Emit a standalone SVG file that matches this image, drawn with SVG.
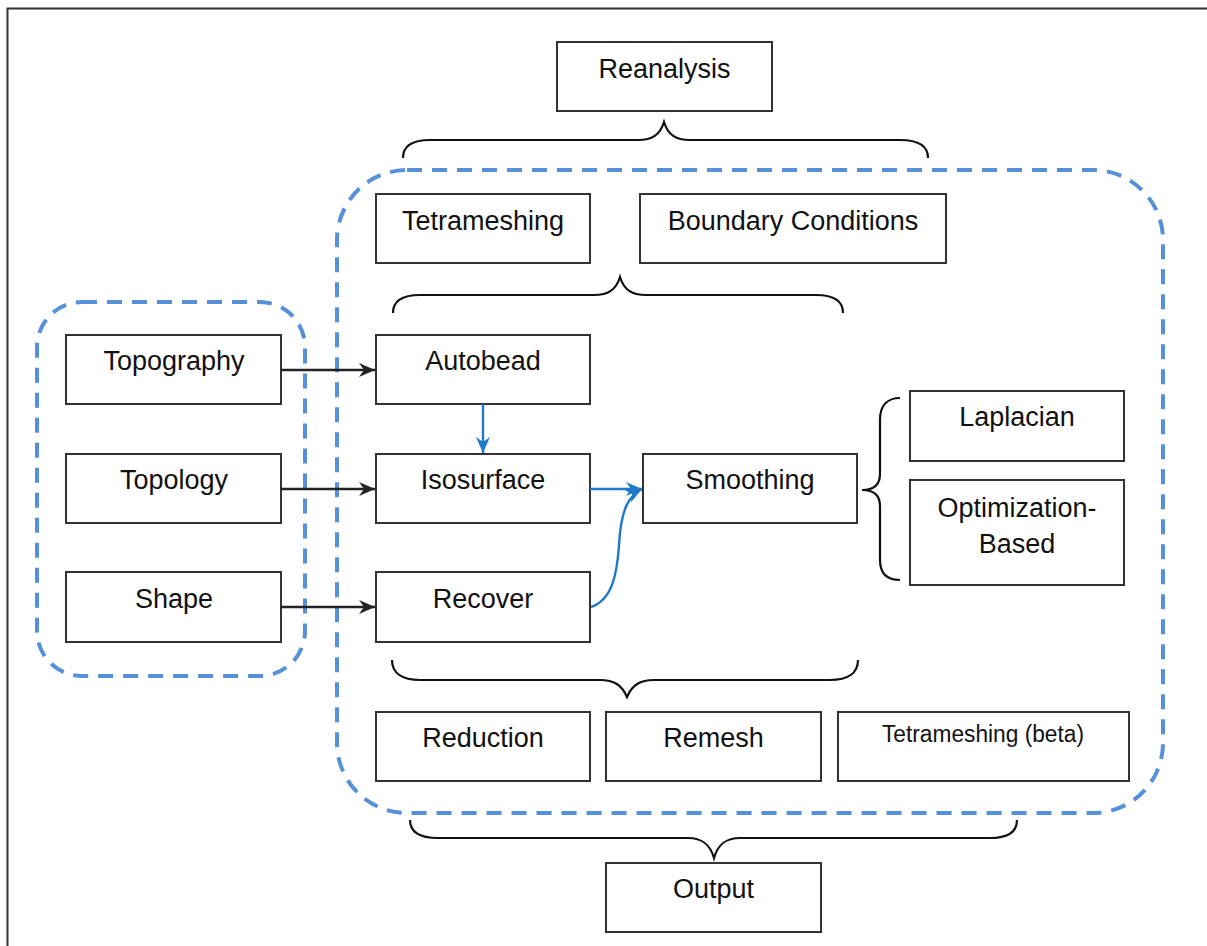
<svg xmlns="http://www.w3.org/2000/svg" width="1207" height="946" viewBox="0 0 1207 946">
<defs>
<style>
.box{fill:#fff;stroke:#333;stroke-width:2}
.t{font-family:"Liberation Sans",Arial,sans-serif;font-size:27px;fill:#111;text-anchor:middle}
.dash{fill:none;stroke:#5590D8;stroke-width:4;stroke-dasharray:15 10}
.brace{fill:none;stroke:#111;stroke-width:2.2}
.ka{fill:none;stroke:#222;stroke-width:2.4}
.ba{fill:none;stroke:#1F78C8;stroke-width:2.4}
</style>
<marker id="ak" markerWidth="18" markerHeight="18" refX="16" refY="8" orient="auto" markerUnits="userSpaceOnUse">
<path d="M0,1 L16,8 L0,15 L5,8 Z" fill="#222"/>
</marker>
<marker id="ab" markerWidth="18" markerHeight="18" refX="16" refY="8" orient="auto" markerUnits="userSpaceOnUse">
<path d="M0,1 L16,8 L0,15 L5,8 Z" fill="#1F78C8"/>
</marker>
</defs>
<rect x="0" y="0" width="1207" height="946" fill="#fff"/>
<rect x="7.5" y="8.5" width="1215" height="950" fill="none" stroke="#333" stroke-width="2"/>

<g id="groups">
<rect class="dash" x="337" y="170" width="826" height="643" rx="70" ry="70"/>
<rect class="dash" x="37" y="302" width="268" height="374" rx="45" ry="45"/>
</g>

<g id="braces">
<path class="brace" d="M403,158 C403,146 412,140 430,140 L638,140 C652,140 660,135 664,122 C668,135 676,140 690,140 L900,140 C918,140 928,146 928,158"/>
<path class="brace" d="M393,313 C393,301 402,295 420,295 L594,295 C608,295 616,290 620,277 C624,290 632,295 646,295 L816,295 C834,295 843,301 843,313"/>
<path class="brace" d="M392,660 C392,673 402,680 420,680 L600,680 C614,680 622,685 627,697 C632,685 640,680 654,680 L830,680 C848,680 858,673 858,660"/>
<path class="brace" d="M410,820 C410,832 420,838 438,838 L688,838 C702,838 710,844 714,858 C718,844 726,838 740,838 L990,838 C1008,838 1017,832 1017,820"/>
<path class="brace" d="M900,398 C888,398 880,405 880,420 L880,474 C880,485 874,490 862,490 C874,490 880,495 880,506 L880,560 C880,574 888,580 900,580"/>
</g>

<g id="n-reanalysis"><rect class="box" x="557" y="42" width="215" height="69"/><text class="t" x="664.5" y="78">Reanalysis</text></g>
<g id="n-tetrameshing"><rect class="box" x="376" y="194" width="214" height="69"/><text class="t" x="483" y="230">Tetrameshing</text></g>
<g id="n-boundary"><rect class="box" x="640" y="194" width="306" height="69"/><text class="t" x="793" y="230">Boundary Conditions</text></g>
<g id="n-topography"><rect class="box" x="66" y="335" width="215" height="69"/><text class="t" x="174" y="370">Topography</text></g>
<g id="n-autobead"><rect class="box" x="376" y="335" width="214" height="69"/><text class="t" x="483" y="370">Autobead</text></g>
<g id="n-topology"><rect class="box" x="66" y="454" width="215" height="69"/><text class="t" x="174" y="489">Topology</text></g>
<g id="n-isosurface"><rect class="box" x="376" y="454" width="214" height="69"/><text class="t" x="483" y="489">Isosurface</text></g>
<g id="n-smoothing"><rect class="box" x="643" y="454" width="214" height="69"/><text class="t" x="750" y="489">Smoothing</text></g>
<g id="n-shape"><rect class="box" x="66" y="572" width="215" height="70"/><text class="t" x="174" y="608">Shape</text></g>
<g id="n-recover"><rect class="box" x="376" y="572" width="214" height="70"/><text class="t" x="483" y="608">Recover</text></g>
<g id="n-laplacian"><rect class="box" x="910" y="391" width="214" height="70"/><text class="t" x="1017" y="426">Laplacian</text></g>
<g id="n-optimization"><rect class="box" x="910" y="480" width="214" height="105"/><text class="t" x="1017" y="517">Optimization-</text><text class="t" x="1017" y="553">Based</text></g>
<g id="n-reduction"><rect class="box" x="376" y="712" width="214" height="69"/><text class="t" x="483" y="747">Reduction</text></g>
<g id="n-remesh"><rect class="box" x="606" y="712" width="215" height="69"/><text class="t" x="713.5" y="747">Remesh</text></g>
<g id="n-tetrabeta"><rect class="box" x="838" y="712" width="291" height="69"/><text class="t" x="983" y="742" style="font-size:23px" textLength="202" lengthAdjust="spacingAndGlyphs">Tetrameshing (beta)</text></g>
<g id="n-output"><rect class="box" x="606" y="863" width="215" height="69"/><text class="t" x="713.5" y="898">Output</text></g>

<g id="connectors">
<path class="ka" d="M281,370 L375,370" marker-end="url(#ak)"/>
<path class="ka" d="M281,489 L375,489" marker-end="url(#ak)"/>
<path class="ka" d="M281,607 L375,607" marker-end="url(#ak)"/>
<path class="ba" d="M483,404 L483,453" marker-end="url(#ab)"/>
<path class="ba" d="M590,489 L642,489" marker-end="url(#ab)"/>
<path class="ba" d="M591,607 C612,600 617,575 619,545 C621,510 628,496 642,489" marker-end="url(#ab)"/>
</g>
</svg>
